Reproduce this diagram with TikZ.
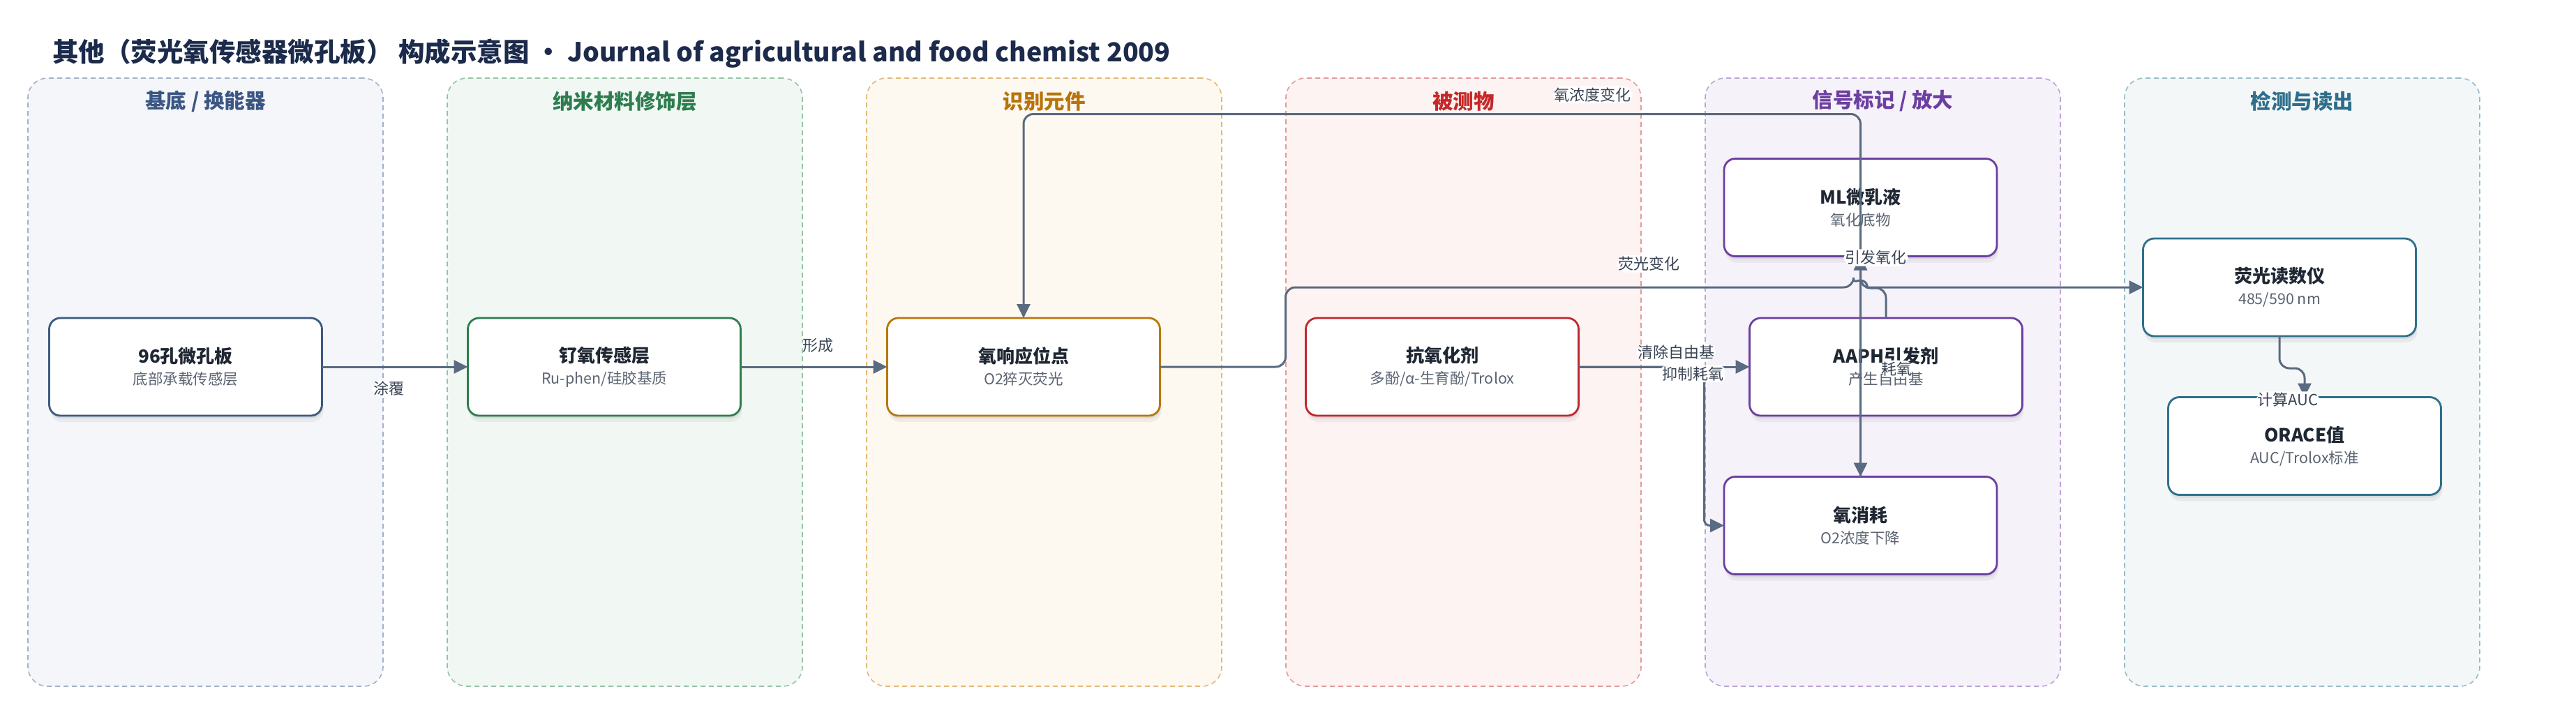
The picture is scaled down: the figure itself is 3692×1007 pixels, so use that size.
\documentclass[tikz,border=0pt]{standalone}
\usepackage{fontspec}
\setmainfont{Noto Sans CJK SC}
\usetikzlibrary{positioning,shadows,arrows.meta}

% lane colours
\definecolor{laneAline}{HTML}{A3B1C8}\definecolor{laneAfill}{HTML}{F4F6FA}\definecolor{laneAhead}{HTML}{3B5683}
\definecolor{laneBline}{HTML}{94C4A6}\definecolor{laneBfill}{HTML}{F1F8F3}\definecolor{laneBhead}{HTML}{2E7D4F}
\definecolor{laneCline}{HTML}{E3B877}\definecolor{laneCfill}{HTML}{FDF8F0}\definecolor{laneChead}{HTML}{B8730A}
\definecolor{laneDline}{HTML}{E39A9A}\definecolor{laneDfill}{HTML}{FDF3F3}\definecolor{laneDhead}{HTML}{C62828}
\definecolor{laneEline}{HTML}{BBA3D9}\definecolor{laneEfill}{HTML}{F6F2FA}\definecolor{laneEhead}{HTML}{6C3FA0}
\definecolor{laneFline}{HTML}{97BDCB}\definecolor{laneFfill}{HTML}{F3F7F8}\definecolor{laneFhead}{HTML}{2E6E8A}
% node colours
\definecolor{plateink}{HTML}{3D5A80}
\definecolor{layerink}{HTML}{2E7D4F}
\definecolor{siteink}{HTML}{B8770B}
\definecolor{antiink}{HTML}{C0282D}
\definecolor{signalink}{HTML}{6A3FA0}
\definecolor{readink}{HTML}{2F6F8C}
% text and lines
\definecolor{titleink}{HTML}{1C2B4B}
\definecolor{boxink}{HTML}{1F2733}
\definecolor{subink}{HTML}{5B6472}
\definecolor{labelink}{HTML}{3A4454}
\definecolor{edgeink}{HTML}{5A6A80}

\newcommand{\boxtitle}[1]{{\fontsize{26}{31}\selectfont\bfseries\color{boxink}#1}}
\newcommand{\boxsub}[1]{{\color{subink}#1}}

\begin{document}
\begin{tikzpicture}[
    x=1pt, y=-1pt,
    lane/.style={rectangle, rounded corners=28pt, dash pattern=on 7pt off 5pt, line width=1.6pt, minimum width=509pt, minimum height=872pt, inner sep=0pt, outer sep=0pt},
    lanehead/.style={font=\fontsize{29.5}{34}\selectfont\bfseries},
    box/.style={rectangle, rounded corners=16pt, line width=2.8pt, fill=white, minimum width=391pt, minimum height=140pt, outer sep=0pt, align=center, font=\fontsize{21.5}{31}\selectfont,
        drop shadow={shadow xshift=1pt, shadow yshift=-4pt, opacity=0.10, fill=black!70},
        drop shadow={shadow xshift=2pt, shadow yshift=-9pt, opacity=0.07, fill=black!70}},
    elabel/.style={fill=white, inner sep=2pt, text=labelink, font=\fontsize{22}{24}\selectfont},
    line/.style={draw=edgeink, line width=3pt, rounded corners=14pt, -{Triangle[length=20pt, width=19pt]}}
]
    \useasboundingbox (0,0) rectangle (3692,1007);

    % Title
    \node [anchor=west, inner sep=0pt, text=titleink, font=\fontsize{37.5}{42}\selectfont\bfseries] (title) at (75,77)
        {其他（荧光氧传感器微孔板） 构成示意图 • Journal of agricultural and food chemist 2009};

    % Lanes
    \node [lane, draw=laneAline, fill=laneAfill] (laneA) at (294.5,548) {};
    \node [lane, draw=laneBline, fill=laneBfill, right=92pt of laneA] (laneB) {};
    \node [lane, draw=laneCline, fill=laneCfill, right=92pt of laneB] (laneC) {};
    \node [lane, draw=laneDline, fill=laneDfill, right=92pt of laneC] (laneD) {};
    \node [lane, draw=laneEline, fill=laneEfill, right=92pt of laneD] (laneE) {};
    \node [lane, draw=laneFline, fill=laneFfill, right=92pt of laneE] (laneF) {};

    \node [lanehead, text=laneAhead] (headA) at ([yshift=-33pt]laneA.north) {基底 / 换能器};
    \node [lanehead, text=laneBhead] (headB) at ([yshift=-33pt]laneB.north) {纳米材料修饰层};
    \node [lanehead, text=laneChead] (headC) at ([yshift=-33pt]laneC.north) {识别元件};
    \node [lanehead, text=laneDhead] (headD) at ([yshift=-33pt]laneD.north) {被测物};
    \node [lanehead, text=laneEhead] (headE) at ([yshift=-33pt]laneE.north) {信号标记 / 放大};
    \node [lanehead, text=laneFhead] (headF) at ([yshift=-33pt]laneF.north) {检测与读出};

    % Nodes
    \node [box, draw=plateink] (plate) at (266,526) {\boxtitle{96孔微孔板}\\\boxsub{底部承载传感层}};
    \node [box, draw=layerink, right=209pt of plate] (ruo) {\boxtitle{钌氧传感层}\\\boxsub{Ru-phen/硅胶基质}};
    \node [box, draw=siteink, right=210pt of ruo] (site) {\boxtitle{氧响应位点}\\\boxsub{O2猝灭荧光}};
    \node [box, draw=antiink, right=209pt of site] (anti) {\boxtitle{抗氧化剂}\\\boxsub{多酚/α-生育酚/Trolox}};
    \node [box, draw=signalink, right=245pt of anti] (aaph) {\boxtitle{AAPH引发剂}\\\boxsub{产生自由基}};
    \node [box, draw=signalink] (micro) at (2666.5,297.5) {\boxtitle{ML微乳液}\\\boxsub{氧化底物}};
    \node [box, draw=signalink] (oxy) at (2666.5,753.5) {\boxtitle{氧消耗}\\\boxsub{O2浓度下降}};
    \node [box, draw=readink] (reader) at (3267,412) {\boxtitle{荧光读数仪}\\\boxsub{485/590 nm}};
    \node [box, draw=readink] (orace) at (3303,639.5) {\boxtitle{ORACE值}\\\boxsub{AUC/Trolox标准}};

    % Paths
    \path [line] (plate) -- node [elabel, pos=0.46, below=17pt] {涂覆} (ruo);
    \path [line] (ruo) -- node [elabel, pos=0.53, above=17pt] {形成} (site);
    \path [line] (site.east) -- ++(180,0) |- node [elabel, pos=0.82, above=20pt] {荧光变化} ([xshift=-10pt]micro.south |- reader.west)
        [sharp corners] arc [start angle=180, end angle=0, radius=10pt] -- (reader.west);
    \path [line] (anti) -- node [elabel, pos=0.57, above=7pt] {清除自由基} (aaph);
    \path [line, rounded corners=8pt] (anti.east) -- node [elabel, pos=0.91, yshift=-10pt] {抑制耗氧} ++(180,0) |- (oxy.west);
    \path [line] (oxy.north) -- ++(0,-520) -| node [elabel, pos=0.16, above=14pt] {氧浓度变化} (site.north);
    \path [line] (aaph.north -| oxy.north) -- node [elabel, pos=0.32, xshift=52pt] {耗氧} (oxy.north);
    \path [line] (aaph.north) -- ++(0,-43) -| node [elabel, pos=1, xshift=22pt, yshift=-2pt] {引发氧化} (micro.south);
    \path [line] (reader.south) -- ++(0,46) -| node [elabel, pos=1, xshift=-24pt, yshift=-4pt] {计算AUC} (orace.north);

\end{tikzpicture}
\end{document}
